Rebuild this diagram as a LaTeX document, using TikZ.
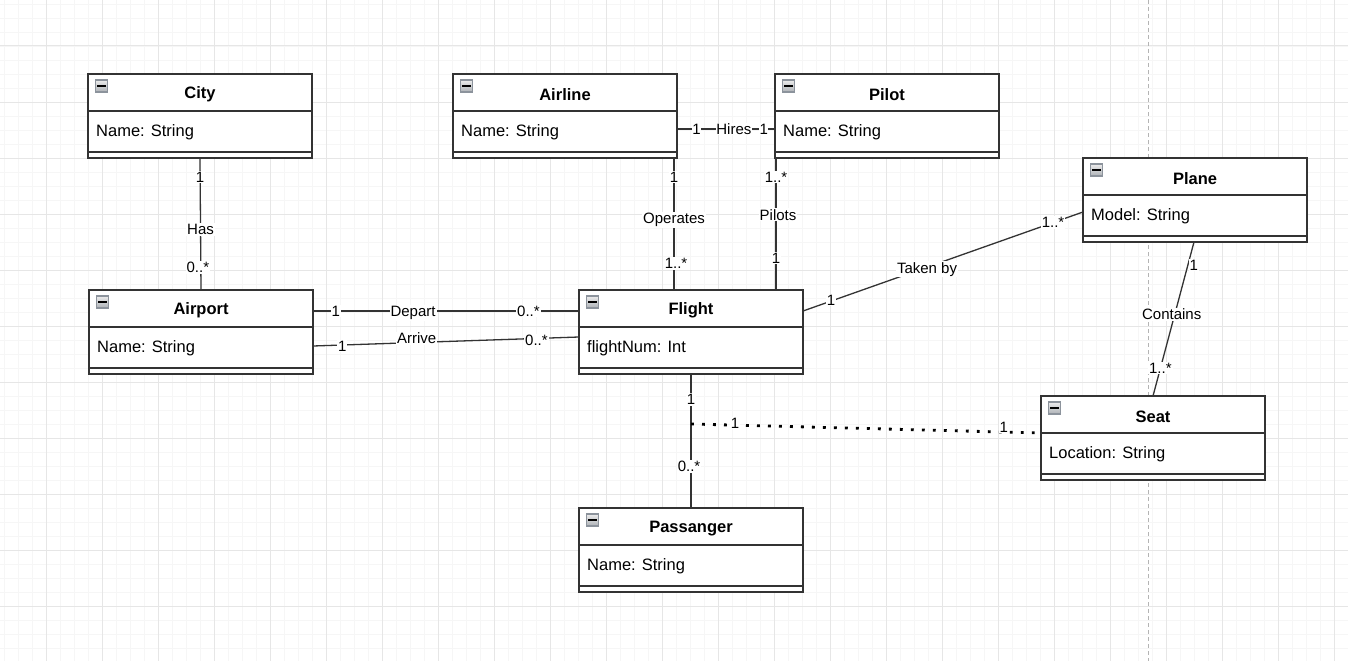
\documentclass[tikz,border=0pt]{standalone}
\usepackage{fontspec}
\setmainfont{Liberation Sans}
\usetikzlibrary{calc}

\definecolor{linec}{HTML}{333333}
\definecolor{minorg}{HTML}{F6F6F6}
\definecolor{majorg}{HTML}{E6E6E6}
\definecolor{pageg}{HTML}{B4B4B4}
\definecolor{icontop}{HTML}{ECECEC}
\definecolor{iconbot}{HTML}{ADB1B6}
\definecolor{iconedge}{HTML}{8C939C}

\tikzset{
  classbox/.style={draw=linec, line width=1.3pt, fill=white, minimum width=224pt,
    minimum height=84pt, inner sep=0pt, outer sep=0pt},
  sepline/.style={draw=linec, line width=1.3pt},
  ctitle/.style={font=\fontsize{16.5}{19}\selectfont\bfseries, inner sep=0pt},
  cattr/.style={font=\fontsize{16.5}{19}\selectfont, anchor=west, inner sep=0pt},
  minusicon/.style={draw=iconedge, line width=1.3pt, top color=icontop,
    bottom color=iconbot, minimum size=12pt, inner sep=0pt,
    path picture={\draw[black, line width=1.6pt]
      ($(path picture bounding box.west)+(1.8,0)$) -- ($(path picture bounding box.east)+(-1.8,0)$);}},
  assoc/.style={draw=linec, line width=1.3pt},
  linkdots/.style={draw=black, line width=2.8pt, dash pattern=on 2.8pt off 8.2pt},
  lbl/.style={font=\fontsize{15}{17}\selectfont, fill=white, inner sep=1pt},
  minorline/.style={draw=minorg, line width=0.8pt},
  majorline/.style={draw=majorg, line width=1pt},
}

% a UML class: name, left x, top y, title, attribute
\newcommand\umlclass[5]{%
  \node[classbox] (#1) at (#2+112,#3+42) {};
  \draw[sepline] ($(#1.north west)+(0,37)$) -- ($(#1.north east)+(0,37)$);
  \draw[sepline] ($(#1.north west)+(0,78)$) -- ($(#1.north east)+(0,78)$);
  \node[ctitle] (#1-title) at ($(#1.north)+(0,20.5)$) {#4};
  \node[cattr] (#1-attr) at ($(#1.north west)+(8,58)$) {#5};
  \node[minusicon] (#1-icon) at ($(#1.north west)+(13.5,12)$) {};
}

\begin{document}
\begin{tikzpicture}[x=1pt,y=-1pt]
  % canvas
  \fill[white] (0,0) rectangle (1348,661);
  \useasboundingbox (0,0) rectangle (1348,661);

  % background grid
  \foreach \g in {4,18,...,1348} \draw[minorline] (\g,0) -- (\g,661);
  \foreach \g in {4,18,...,661} \draw[minorline] (0,\g) -- (1348,\g);
  \foreach \g in {46,102,...,1348} \draw[majorline] (\g,0) -- (\g,661);
  \foreach \g in {46,102,...,661} \draw[majorline] (0,\g) -- (1348,\g);
  \draw[pageg, line width=0.8pt, dash pattern=on 4pt off 3pt] (1148,0) -- (1148,661);

  % classes
  \umlclass{city}{88}{74}{City}{Name: String}
  \umlclass{airline}{453}{74}{Airline}{Name: String}
  \umlclass{pilot}{775}{74}{Pilot}{Name: String}
  \umlclass{plane}{1083}{158}{Plane}{Model: String}
  \umlclass{airport}{89}{290}{Airport}{Name: String}
  \umlclass{flight}{579}{290}{Flight}{flightNum: Int}
  \umlclass{seat}{1041}{396}{Seat}{Location: String}
  \umlclass{passanger}{579}{508}{Passanger}{Name: String}

  % associations
  \draw[assoc] (city.south) -- (airport.north)
    node[lbl, pos=0.144] {1}
    node[lbl, pos=0.54] {Has}
    node[lbl, pos=0.83, xshift=-3pt] {0..*};

  \draw[assoc] ($(airline.north east)+(0,55)$) -- ($(pilot.north west)+(0,55)$)
    node[lbl, pos=0.2, inner sep=0.5pt] {1}
    node[lbl, pos=0.58, inner sep=0.5pt] {Hires}
    node[lbl, pos=0.885, inner sep=0.5pt] {1};

  \draw[assoc] ($(airline.south east)+(-3,0)$) -- ($(flight.north west)+(95,0)$)
    node[lbl, pos=0.144] {1}
    node[lbl, pos=0.47] {Operates}
    node[lbl, pos=0.80, xshift=2pt] {1..*};

  \draw[assoc] ($(pilot.south west)+(1,0)$) -- ($(flight.north east)+(-27,0)$)
    node[lbl, pos=0.144] {1..*}
    node[lbl, pos=0.43, xshift=2pt] {Pilots}
    node[lbl, pos=0.76] {1};

  \draw[assoc] ($(airport.north east)+(0,21)$) -- ($(flight.north west)+(0,21)$)
    node[lbl, pos=0.086] {1}
    node[lbl, pos=0.376, yshift=-2pt] {Depart}
    node[lbl, pos=0.81] {0..*};

  \draw[assoc] ($(airport.north east)+(0,56)$) -- ($(flight.north west)+(0,47)$)
    node[lbl, pos=0.11, yshift=-1pt] {1}
    node[lbl, pos=0.39, yshift=4pt] {Arrive}
    node[lbl, pos=0.84, yshift=-2pt] {0..*};

  \draw[assoc] ($(flight.north east)+(0,21)$) -- ($(plane.north west)+(0,54)$)
    node[lbl, pos=0.1, yshift=1pt] {1}
    node[lbl, pos=0.443, yshift=-2pt] {Taken by}
    node[lbl, pos=0.893] {1..*};

  \draw[assoc] ($(plane.south west)+(111,0)$) -- ($(seat.north west)+(112,0)$)
    node[lbl, pos=0.15, xshift=6pt] {1}
    node[lbl, pos=0.47, xshift=-3pt] {Contains}
    node[lbl, pos=0.82] {1..*};

  \draw[assoc] (flight.south) -- (passanger.north)
    node[lbl, pos=0.19] {1}
    node[lbl, pos=0.69, xshift=-2pt] {0..*};

  % association class link to Seat
  \coordinate (seatlink) at ($(flight.south)+(0,50)$);
  \draw[linkdots] (seatlink) -- ($(seat.north west)+(0,37)$)
    node[lbl, pos=0.126, yshift=2pt] {1}
    node[lbl, pos=0.894, yshift=5pt] {1};
\end{tikzpicture}
\end{document}
